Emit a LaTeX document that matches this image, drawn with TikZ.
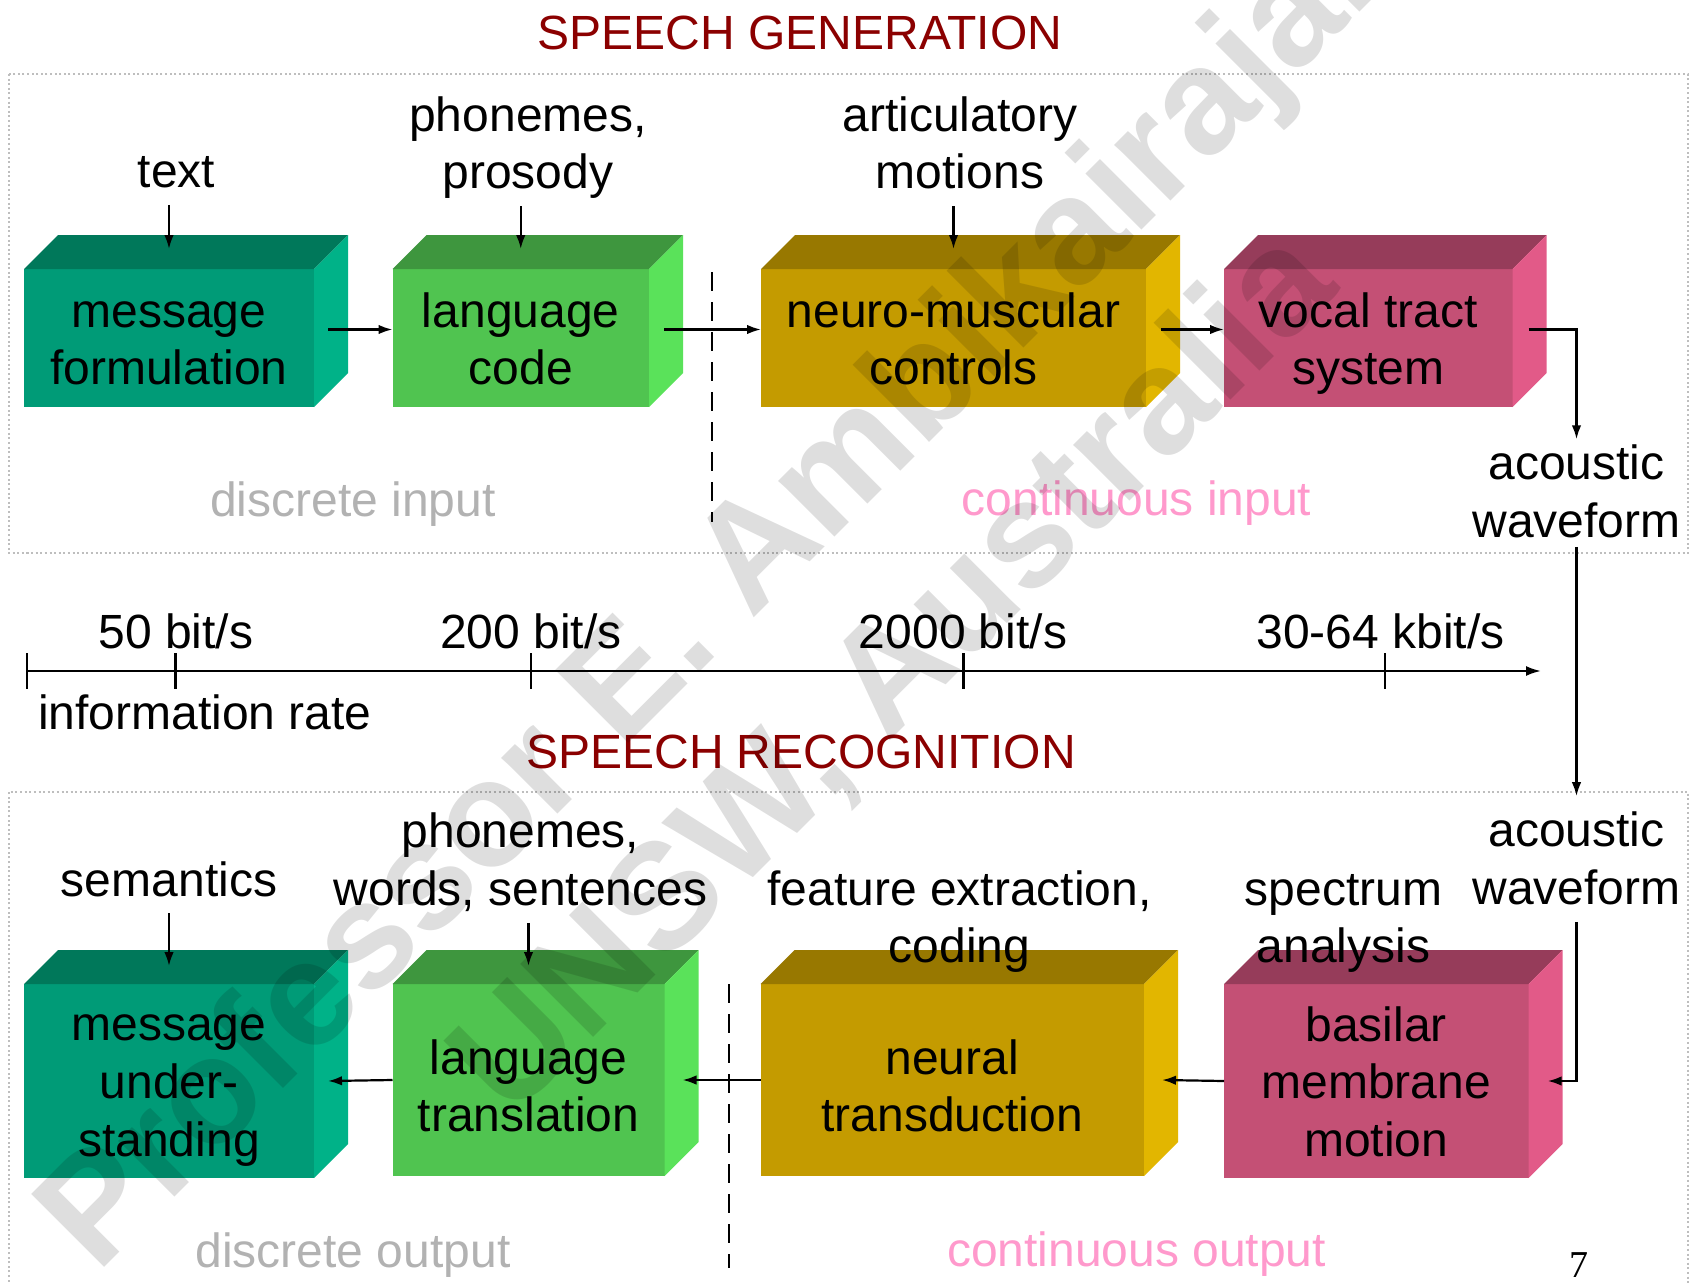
\documentclass[tikz,border=0pt]{standalone}
\usepackage{fontspec}
\setmainfont{Liberation Sans}
\newfontfamily\pagenumfont{Liberation Serif}
\usetikzlibrary{arrows.meta,calc}

% block colours: F = front face, T = top face, S = side face
\definecolor{tealF}{RGB}{0,155,119}
\definecolor{tealT}{RGB}{0,120,90}
\definecolor{tealS}{RGB}{0,178,136}
\definecolor{greenF}{RGB}{80,196,80}
\definecolor{greenT}{RGB}{62,150,62}
\definecolor{greenS}{RGB}{90,226,90}
\definecolor{goldF}{RGB}{196,155,0}
\definecolor{goldT}{RGB}{152,120,0}
\definecolor{goldS}{RGB}{226,182,0}
\definecolor{pinkF}{RGB}{196,80,117}
\definecolor{pinkT}{RGB}{150,60,90}
\definecolor{pinkS}{RGB}{226,90,136}
\definecolor{titlered}{RGB}{139,0,0}
\definecolor{softgray}{RGB}{178,178,178}
\definecolor{softpink}{RGB}{255,153,204}
\definecolor{framegray}{RGB}{190,190,190}

% a 3-D block: #1 name, #2/#3 top-left of front face, #4 width, #5 height, #6 colour family
\newcommand{\drawprism}[6]{%
  \node[face, fill=#6F, minimum width=#4, minimum height=#5, anchor=north west] (#1) at (#2,#3) {};
  \fill[#6T] (#1.north west) -- ++(34,-34) -- ([shift={(34,-34)}]#1.north east) -- (#1.north east) -- cycle;
  \fill[#6S] (#1.north east) -- ++(34,-34) -- ([shift={(34,-34)}]#1.south east) -- (#1.south east) -- cycle;
}

\begin{document}
\begin{tikzpicture}[x=1pt, y=-1pt,
  body/.style={font=\fontsize{48}{57.6}\selectfont},
  lbl/.style={body, align=center, inner sep=0pt},
  heading/.style={body, text=titlered, inner sep=0pt, anchor=base},
  plain/.style={body, inner sep=0pt, anchor=base},
  face/.style={draw=none, inner sep=0pt, outer sep=0pt},
  arr/.style={line width=2.2pt, -{Latex[length=14pt,width=9.5pt]}},
  dotframe/.style={draw=framegray, line width=2pt, dash pattern=on 2pt off 2.6pt},
  divider/.style={line width=2pt, dash pattern=on 19pt off 11pt},
  wm/.style={font=\bfseries\fontsize{150}{180}\selectfont, text=black, text opacity=0.13, inner sep=0pt, anchor=base west, rotate=45}
]
\fill[white] (0,0) rectangle (1699,1284);
\useasboundingbox (0,0) rectangle (1699,1284);

% ---------------- speech generation ----------------
\node[heading] (gentitle) at (800,49.5) {SPEECH GENERATION};
\draw[dotframe] (8.7,74) rectangle (1688,553);

\drawprism{mf}{24}{269}{290}{138}{teal}
\drawprism{lc}{392.5}{269}{256.5}{138}{green}
\drawprism{nm}{761}{269}{385}{138}{gold}
\drawprism{vt}{1224}{269}{288.6}{138}{pink}

\node[lbl] (mft) at ($(mf.center)+(0,6.5)$) {\strut message\\formulation\strut};
\node[lbl] (lct) at ($(lc.center)+(0,6.5)$) {\strut language\\code\strut};
\node[lbl] (nmt) at ($(nm.center)+(0,6.5)$) {\strut neuro-muscular\\controls\strut};
\node[lbl] (vtt) at ($(vt.center)+(0,6.5)$) {\strut vocal tract\\system\strut};

\node[lbl, anchor=base] (intext) at (176.5,187.5) {\strut text};
\node[lbl] (inpp) at (528,148.6) {\strut phonemes,\\prosody\strut};
\node[lbl] (inart) at (960,148.6) {\strut articulatory\\motions\strut};
\node[lbl] (aw1) at (1576.5,497.1) {\strut acoustic\\waveform\strut};

\draw[arr] (intext.south -| mf.north) -- ([yshift=20pt]mf.north);
\draw[arr] (inpp.south -| lc.north) -- ([yshift=20pt]lc.north);
\draw[arr] (inart.south -| nm.north) -- ([yshift=20pt]nm.north);

\draw[arr] ($(mf.east)+(14,-8.5)$) -- ($(lc.west)+(0,-8.5)$);
\draw[arr] ($(lc.east)+(15,-8.5)$) -- ($(nm.west)+(0,-8.5)$);
\draw[arr] ($(nm.east)+(15,-8.5)$) -- ($(vt.west)+(0,-8.5)$);
\draw[arr] ($(vt.east)+(16,-8.5)$) -| (aw1.north);

\coordinate (divTa) at (712,272);
\coordinate (divTb) at (712,522);
\draw[divider] (divTa) -- (divTb);

\node[plain, text=softgray] (dinput) at (353,516.3) {discrete input};
\node[plain, text=softpink] (cinput) at (1136.5,515.3) {continuous input};

% ---------------- information rate axis ----------------
\coordinate (axL) at (27,671);
\coordinate (axR) at (1541,671);
\draw[line width=2.2pt, -{Latex[length=15pt,width=10pt]}] (axL) -- (axR);
\foreach \tx in {27,175.5,531,963.5,1385}
  \draw[line width=2.2pt] (\tx,653) -- (\tx,689);
\node[plain] (r1) at (176,648) {50 bit/s};
\node[plain] (r2) at (531,648) {200 bit/s};
\node[plain] (r3) at (963,648) {2000 bit/s};
\node[plain] (r4) at (1380.5,648) {30-64 kbit/s};
\node[plain, anchor=base west] (irate) at (38,729) {information rate};

% ---------------- speech recognition ----------------
\node[heading] (rectitle) at (801,768) {SPEECH RECOGNITION};
\draw[dotframe] (8.7,1300) -- (8.7,791.6) -- (1688,791.6) -- (1688,1300);

\drawprism{mu}{24}{984}{290}{194}{teal}
\drawprism{lt}{392.5}{984}{272}{192}{green}
\drawprism{nt}{760.5}{984}{383.5}{192}{gold}
\drawprism{bm}{1224}{984}{304.6}{194}{pink}

\node[lbl] (mut) at ($(mu.center)+(0,6)$) {\strut message\\under-\\standing\strut};
\node[lbl] (ltt) at ($(lt.center)+(0,11.5)$) {\strut language\\translation\strut};
\node[lbl] (ntt) at ($(nt.center)+(0,11.5)$) {\strut neural\\transduction\strut};
\node[lbl] (bmt) at ($(bm.center)+(0,6.3)$) {\strut basilar\\membrane\\motion\strut};

\node[lbl, anchor=base] (outsem) at (169,896) {\strut semantics};
\node[lbl] (outpws) at (520.6,865) {\strut phonemes,\\words, sentences\strut};
\node[lbl] (outfec) at (959.4,922.4) {\strut feature extraction,\\coding\strut};
\node[lbl] (outspa) at (1343.5,922.4) {\strut spectrum\\analysis\strut};
\node[lbl] (aw2) at (1576.5,864) {\strut acoustic\\waveform\strut};

\draw[arr] ([yshift=8pt]aw1.south) -- ([yshift=10pt]aw2.north);
\draw[arr] (aw2.south) |- ($(bm.east)+(19,0)$);
\draw[arr] (bm.west) -- ($(nt.east)+(18,0)$);
\draw[arr] (nt.west) -- ($(lt.east)+(18,0)$);
\draw[arr] (lt.west) -- ($(mu.east)+(14,0)$);

\draw[arr] (outsem.south -| mu.north) -- ([yshift=18pt]mu.north);
\draw[arr] (outpws.south -| lt.north) -- ([yshift=18pt]lt.north);

\coordinate (divBa) at (729,984);
\coordinate (divBb) at (729,1268);
\draw[divider] (divBa) -- (divBb);

\node[plain, text=softgray] (doutput) at (353,1267) {discrete output};
\node[plain, text=softpink] (coutput) at (1136.5,1266) {continuous output};

\node[inner sep=0pt, anchor=base, font=\pagenumfont\fontsize{38}{44}\selectfont] (pagenum) at (1579,1277.5) {7};

% ---------------- watermark ----------------
\node[wm] (wmname) at (97,1275) {Professor E. Ambikairajah};
\node[wm] (wmplace) at (510,1121) {UNSW, Australia};
\end{tikzpicture}
\end{document}
